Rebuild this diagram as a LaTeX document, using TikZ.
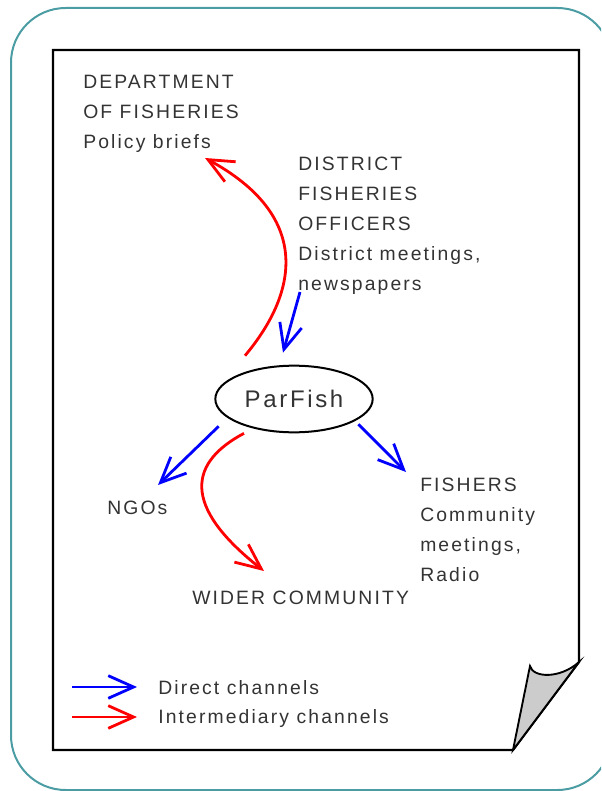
\documentclass[tikz,border=0pt]{standalone}
\usepackage{fontspec}
\setmainfont[LetterSpace=11]{Liberation Sans}
\usetikzlibrary{arrows.meta,shapes.geometric,calc}

\definecolor{framecol}{HTML}{4B9DA3}
\definecolor{txtgray}{HTML}{333333}
\definecolor{foldgray}{HTML}{CCCCCC}

\tikzset{
  lbl/.style={anchor=north west, inner sep=0pt, align=left, text=txtgray,
              font=\fontsize{14.5}{22.5}\selectfont},
  direct/.style={blue, line width=2.1pt, -{Straight Barb[length=19pt,width=17pt]}},
  interm/.style={red, line width=2.1pt, -{Straight Barb[length=19pt,width=17pt]}},
}

\begin{document}
\begin{tikzpicture}[x=0.75pt, y=-0.75pt]
    % Bordo della pagina
    \path[use as bounding box] (0,0) rectangle (601,791);
    \clip (0,0) rectangle (601,791);

    % Cornice arrotondata
    \draw[framecol, line width=1.5pt, rounded corners=41pt] (11,8) rectangle (612,790);

    % Foglio con angolo piegato
    \draw[line width=1.7pt, line join=miter] (53,50) -- (579,50) -- (579,662) -- (513,750) -- (53,750) -- cycle;
    \filldraw[fill=foldgray, line width=1.4pt] (513,750) -- (530,666) .. controls (533,678) and (560,679) .. (579,662) -- cycle;

    % Nodi
    \node[ellipse, draw, line width=1.5pt, minimum width=118pt, minimum height=50pt, inner sep=0pt,
          text=txtgray, font=\fontsize{18}{22}\selectfont] (parfish) at (294,399) {ParFish};
    \node[lbl] (dof) at (83,75) {DEPARTMENT\\OF FISHERIES\\Policy briefs};
    \node[lbl] (dfo) at (298,157) {DISTRICT\\FISHERIES\\OFFICERS\\District meetings,\\newspapers};
    \node[lbl] (ngos) at (107,501) {NGOs};
    \node[lbl] (fishers) at (420,478) {FISHERS\\Community\\meetings,\\Radio};
    \node[lbl] (wider) at (192,591) {WIDER COMMUNITY};

    % Canali
    \draw[interm] ($(parfish.north)+(-49,-9)$) .. controls (300,290) and (310,215) .. ($(dof.north west)+(122,83)$);
    \draw[direct] ($(dfo.north west)+(2,135)$) -- ($(parfish.north)+(-11,-12)$);
    \draw[direct] ($(parfish.south west)+(-19,3)$) -- ($(ngos.north west)+(51,-16)$);
    \draw[interm] ($(parfish.south)+(-50,0)$) .. controls (190,462) and (180,505) .. ($(wider.north west)+(72,-20)$);
    \draw[direct] ($(parfish.south east)+(8,1)$) -- ($(fishers.north west)+(-14,-6)$);

    % Legenda
    \coordinate (ld1) at (72,687);
    \coordinate (ld2) at (72,717);
    \draw[direct] (ld1) -- ++(65,0) coordinate (le1);
    \draw[interm] (ld2) -- ++(65,0) coordinate (le2);
    \node[lbl] (ldirect) at (158,680) {Direct channels};
    \node[lbl] (linterm) at (158,709) {Intermediary channels};

\end{tikzpicture}
\end{document}
